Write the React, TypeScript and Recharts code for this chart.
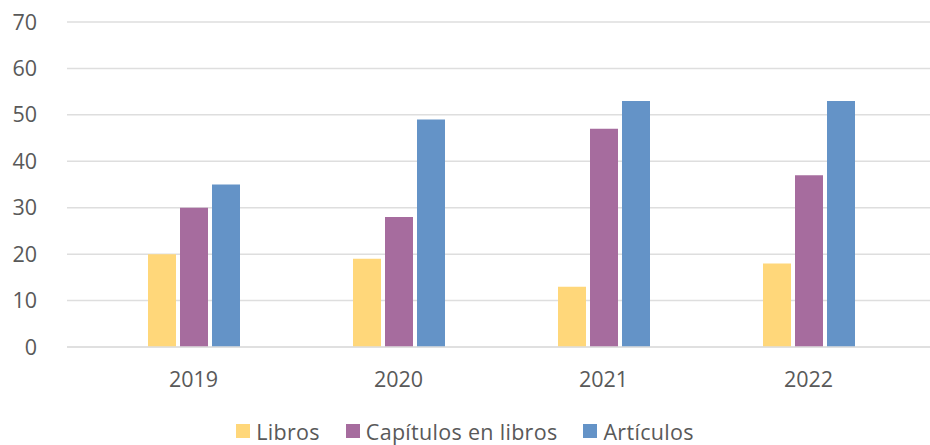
import { Bar, BarChart, CartesianGrid, Legend, XAxis, YAxis } from "recharts";

const years = ["2019", "2020", "2021", "2022"];
const libros = [20, 19, 13, 18];
const capitulos = [30, 28, 47, 37];
const articulos = [35, 49, 53, 53];
const yTicks = [0, 10, 20, 30, 40, 50, 60, 70];

const data = years.map((year, i) => ({
  year,
  libros: libros[i],
  capitulos: capitulos[i],
  articulos: articulos[i],
}));

const series = [
  { key: "libros", name: "Libros", color: "#FFD77A" },
  { key: "capitulos", name: "Capítulos en libros", color: "#A66C9E" },
  { key: "articulos", name: "Artículos", color: "#6493C7" },
];

const FONT = "'Open Sans', Lato, sans-serif";

const CustomLegend = () => (
  <div
    style={{
      display: "flex",
      justifyContent: "center",
      alignItems: "center",
      gap: 26,
      fontFamily: FONT,
      fontSize: 21.5,
      letterSpacing: 0.3,
      color: "#595959",
      height: 28,
    }}
  >
    {series.map((s) => (
      <div key={s.key} style={{ display: "flex", alignItems: "center", gap: 6 }}>
        <span style={{ width: 14, height: 14, background: s.color, display: "inline-block" }} />
        <span>{s.name}</span>
      </div>
    ))}
  </div>
);

export default function App() {
  return (
    <div style={{ position: "absolute", left: 0, top: 0, background: "#fff" }}>
      <BarChart
        width={930}
        height={445}
        data={data}
        margin={{ top: 22, right: 0, bottom: 0, left: 0 }}
        barGap={4}
        barSize={28}
      >
        <CartesianGrid vertical={false} stroke="#dedede" strokeWidth={1.5} />
        <XAxis
          dataKey="year"
          height={70}
          padding={{ left: 24, right: 19 }}
          tickLine={false}
          tickSize={0}
          tickMargin={25}
          axisLine={{ stroke: "#dedede", strokeWidth: 1.5 }}
          tick={{ fill: "#595959", fontSize: 21.5, fontFamily: FONT }}
        />
        <YAxis
          width={67}
          domain={[0, 70]}
          ticks={yTicks}
          axisLine={false}
          tickLine={false}
          tickSize={0}
          tickMargin={30}
          tick={{ fill: "#595959", fontSize: 21.5, fontFamily: FONT }}
        />
        <Legend verticalAlign="bottom" height={28} content={<CustomLegend />} />
        {series.map((s) => (
          <Bar key={s.key} dataKey={s.key} name={s.name} fill={s.color} isAnimationActive={false} />
        ))}
      </BarChart>
    </div>
  );
}
